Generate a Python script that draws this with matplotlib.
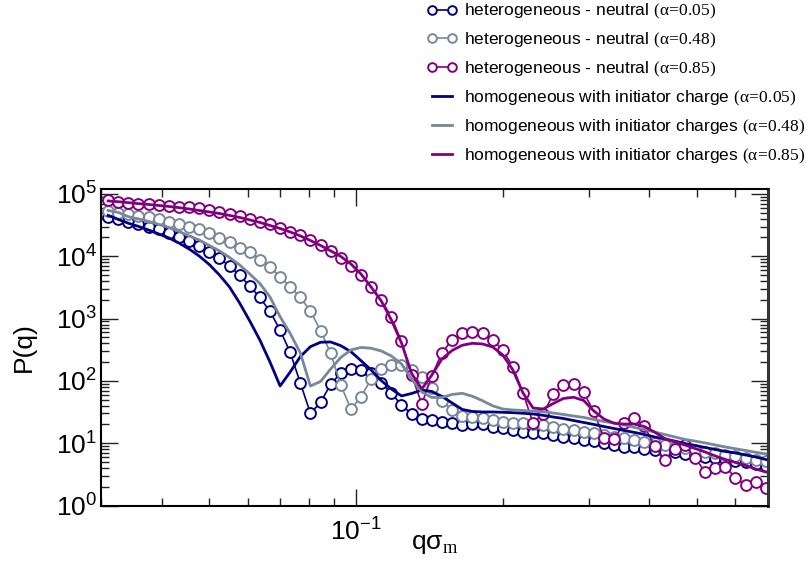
import matplotlib
matplotlib.use("Agg")
import matplotlib.pyplot as plt
from matplotlib.ticker import LogLocator, NullFormatter

plt.rcParams['font.family'] = ['Liberation Sans', 'DejaVu Sans']
plt.rcParams['mathtext.fontset'] = 'custom'
plt.rcParams['mathtext.rm'] = 'Liberation Serif'
plt.rcParams['mathtext.it'] = 'Liberation Serif:italic'
plt.rcParams['mathtext.sf'] = 'Liberation Sans'
plt.rcParams['mathtext.default'] = 'regular'

# q sigma_m grid (shared by all series)
q = [0.03102, 0.03254, 0.03413, 0.03580, 0.03755, 0.03939, 0.04132, 0.04334,
     0.04546, 0.04769, 0.05002, 0.05247, 0.05504, 0.05773, 0.06056, 0.06352,
     0.06663, 0.06989, 0.07331, 0.07690, 0.08066, 0.08461, 0.08875, 0.09310,
     0.09766, 0.1024, 0.1074, 0.1127, 0.1182, 0.1240, 0.1301, 0.1365,
     0.1431, 0.1501, 0.1575, 0.1652, 0.1733, 0.1818, 0.1907, 0.2000,
     0.2098, 0.2201, 0.2308, 0.2421, 0.2540, 0.2664, 0.2795, 0.2931,
     0.3075, 0.3225, 0.3383, 0.3549, 0.3723, 0.3905, 0.4096, 0.4297,
     0.4507, 0.4728, 0.4959, 0.5202, 0.5457, 0.5724, 0.6004, 0.6298,
     0.6606, 0.6930]

# heterogeneous - neutral (markers)
het_005 = [43200, 39300, 35900, 32600, 29900, 27100, 23400, 20600, 17800, 14600,
           11900, 9290, 6990, 4920, 3340, 2180, 1300, 656, 286, 92.5,
           30.2, 45, 88.5, 134, 155, 150, 132, 93.5, 63.2, 41,
           29.4, 24.5, 23.6, 22.1, 20.9, 19.6, 20.3, 20.0, 18.4, 17.3,
           16.3, 15.3, 14.8, 14.4, 13.5, 12.7, 12.0, 11.3, 10.8, 9.96,
           9.36, 8.79, 8.7, 8.07, 7.78, 7.31, 7.09, 6.71, 6.35, 6.07,
           5.72, 5.58, 5.18, 4.90, 4.64, 4.31]
het_048 = [54000, 50100, 47700, 44300, 42300, 39300, 35900, 32600, 29900, 27100,
           23400, 19900, 16800, 13700, 11500, 8720, 6650, 4710, 3250, 2180,
           1320, 640, 277, 86, 35, 55.7, 106, 155, 180, 180,
           150, 114, 76, 47.6, 34.1, 27.8, 25.9, 25.1, 23.6, 22.1,
           21.3, 21.3, 20.3, 19.6, 18.4, 17.2, 16.1, 15.3, 14.6, 13.5,
           12.7, 12.0, 11.3, 10.6, 9.96, 9.36, 8.79, 8.28, 7.78, 7.31,
           6.88, 6.47, 6.12, 5.79, 5.47, 5.09]
het_085 = [80100, 75200, 72500, 69100, 68500, 66600, 64900, 62500, 61100, 58900,
           55300, 52000, 47700, 44300, 40000, 35900, 32700, 28800, 24800, 22000,
           18300, 15200, 12300, 9500, 6990, 5010, 3250, 1990, 1060, 429,
           122, 42.6, 120, 284, 453, 581, 617, 581, 453, 313,
           169, 63.9, 21.1, 29.4, 61.6, 86.9, 88.5, 65.1, 32.3, 12.0,
           11.5, 21.1, 25.4, 18.9, 8.91, 5.43, 8.07, 9.19, 5.83, 3.45,
           3.96, 4.20, 2.78, 2.13, 2.34, 1.92]

# homogeneous with initiator charges (lines)
hom_005 = [45200, 39000, 33900, 30100, 26400, 22800, 19700, 16300, 13100, 10100,
           7380, 5010, 3210, 1780, 915, 453, 201, 82.8, 139, 245,
           354, 417, 421, 367, 294, 211, 150, 101, 74.1, 57.3,
           62.8, 71.4, 67.6, 56.2, 44.2, 34.8, 32.3, 31.7, 31.7, 31.3,
           30.9, 30.2, 29.4, 28.0, 26.3, 24.9, 23.1, 21.5, 20.0, 18.5,
           17.2, 16.0, 14.9, 13.8, 12.6, 11.7, 10.8, 9.89, 9.19, 8.53,
           7.92, 7.36, 6.96, 6.47, 6.00, 5.47]
hom_048 = [54300, 50500, 43200, 39700, 36200, 32400, 29000, 25000, 21200, 18300,
           14900, 12200, 9570, 7250, 5200, 3660, 2220, 1070, 577, 281,
           82.8, 97.8, 155, 238, 313, 344, 334, 302, 251, 187,
           107, 66.3, 54.2, 54.2, 60.5, 63.2, 56.6, 48.0, 39.8, 35.4,
           34.1, 33.5, 32.6, 32.0, 30.5, 28.9, 27.3, 25.9, 24.0, 22.3,
           21.1, 19.6, 17.9, 16.6, 15.1, 13.8, 12.6, 11.5, 10.8, 10.1,
           9.36, 8.69, 8.13, 7.64, 7.14, 6.71]
hom_085 = [77200, 75000, 72500, 69800, 67800, 65300, 63000, 60300, 57400, 54300,
           51400, 48600, 45200, 42000, 38300, 34900, 31200, 27900, 24500, 21200,
           17900, 14900, 12200, 9930, 7520, 5200, 3210, 1920, 950, 406,
           131, 74.1, 124, 225, 308, 373, 401, 391, 350, 261,
           150, 63.9, 36.7, 35.4, 43.4, 52.2, 54.6, 48.5, 32.9, 24.5,
           20.9, 20.3, 20.3, 18.5, 15.1, 11.9, 10.5, 9.36, 8.22, 7.22,
           6.23, 5.47, 4.90, 4.39, 3.85, 3.45]

colors = ['#000080', '#778899', '#800080']
het_labels = [r'heterogeneous - neutral $\mathrm{(\alpha\!=\!0.05)}$',
              r'heterogeneous - neutral $\mathrm{(\alpha\!=\!0.48)}$',
              r'heterogeneous - neutral $\mathrm{(\alpha\!=\!0.85)}$']
hom_labels = [r'homogeneous with initiator charge $\mathrm{(\alpha\!=\!0.05)}$',
              r'homogeneous with initiator charges $\mathrm{(\alpha\!=\!0.48)}$',
              r'homogeneous with initiator charges $\mathrm{(\alpha\!=\!0.85)}$']

fig = plt.figure(figsize=(8.12, 5.62), dpi=100)
ax = fig.add_axes([101/812, 1 - 505.5/562, 667/812, 316.5/562])

handles = []
for ys, c, lab in zip([het_005, het_048, het_085], colors, het_labels):
    h, = ax.plot(q, ys, '-', color=c, lw=1.2, marker='o', ms=7.8, mfc='white',
                 mec=c, mew=1.4, label=lab, zorder=2)
    handles.append(h)
for ys, c, lab in zip([hom_005, hom_048, hom_085], colors, hom_labels):
    h, = ax.plot(q, ys, '-', color=c, lw=2.0, label=lab, zorder=3)
    handles.append(h)

ax.set_xscale('log')
ax.set_yscale('log')
ax.set_xlim(0.03, 0.7)
ax.set_ylim(1, 1.2e5)
ax.yaxis.set_major_locator(LogLocator(base=10, numticks=10))
ax.yaxis.set_minor_locator(LogLocator(base=10, subs=[2, 3, 4, 5, 6, 7, 8, 9], numticks=20))
ax.yaxis.set_minor_formatter(NullFormatter())
ax.xaxis.set_minor_formatter(NullFormatter())

ax.tick_params(which='both', direction='in', top=True, right=True, width=1.0, color='#222222')
ax.tick_params(which='major', length=12, labelsize=19)
ax.tick_params(which='minor', length=6)
ax.tick_params(axis='y', which='major', pad=3)
ax.tick_params(axis='x', which='major', pad=9)
for s in ax.spines.values():
    s.set_linewidth(1.5)
ax.spines['right'].set_linewidth(2.2)
ax.spines['right'].set_color('#333333')

ax.set_ylabel('P(q)', fontsize=19)
ax.yaxis.set_label_coords(-0.097, 0.5)
ax.set_xlabel(r'q$\mathsf{\sigma}_{\mathrm{m}}$', fontsize=19)
ax.xaxis.set_label_coords(0.5, -0.085)

fig.legend(handles=handles, loc='upper left', bbox_to_anchor=(427/812, 1 - 2/562),
           frameon=False, fontsize=12.5, numpoints=2, handlelength=1.76,
           handletextpad=0.4, labelspacing=0.56, borderpad=0, borderaxespad=0,
           markerscale=0.8)

fig.savefig('out.png', dpi=100)
